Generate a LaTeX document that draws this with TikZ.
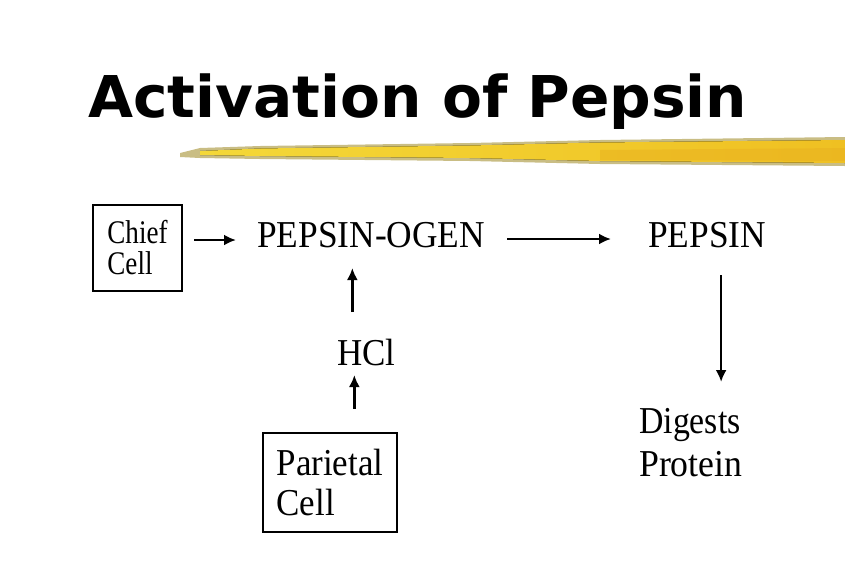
\documentclass[tikz,border=0pt]{standalone}
\usepackage{fontspec}
\setmainfont{Liberation Serif}
\newfontfamily\titlefont{DejaVu Sans}
\usetikzlibrary{arrows.meta,calc}
\definecolor{brushkhaki}{HTML}{C9BD84}
\definecolor{brushyellow}{HTML}{F4D838}
\definecolor{brushgold}{HTML}{EFC022}
\definecolor{brushorange}{HTML}{E9B020}
\tikzset{
  lbl/.style={inner sep=0pt, anchor=base west, font=\fontsize{38}{43}\selectfont},
  cellbox/.style={draw, line width=2.6pt, inner sep=0pt, align=left},
  arr/.style={line width=2.6pt, -{Latex[length=12pt,width=11pt]}},
}
\begin{document}
\begin{tikzpicture}[x=1pt,y=-1pt]
\useasboundingbox (0,0) rectangle (845,576);
% title
\node[inner sep=0pt, anchor=base west, font=\titlefont\bfseries\fontsize{57.6}{60}\selectfont] (title) at (88,117) {\scalebox{1.01}[1]{Activation of Pepsin}};
% brush stroke
\fill[brushkhaki] (180,153) -- (200,148) -- (260,146) -- (470,143) -- (600,140) -- (845,137) -- (845,166) -- (600,164) -- (470,161) -- (260,159) -- (200,158) -- (180,157) -- cycle;
\fill[left color=brushyellow, right color=brushgold] (200,151) -- (260,148.5) -- (470,145.5) -- (600,142.5) -- (845,140) -- (845,163) -- (600,161) -- (470,158) -- (260,156) -- (200,155) -- cycle;
\fill[brushorange, opacity=0.5] (600,150) -- (845,148) -- (845,161) -- (600,160) -- cycle;
% nodes
\node[cellbox, minimum width=89, minimum height=86, font=\fontsize{33}{31}\selectfont] (chief) at (137.5,248) {\scalebox{0.82}[1]{Chief}\\\scalebox{0.82}[1]{Cell}};
\node[lbl] (pg) at (257,247) {\scalebox{0.93}[1]{PEPSIN-OGEN}};
\node[lbl] (p) at (648,247) {\scalebox{0.93}[1]{PEPSIN}};
\node[lbl] (hcl) at (337,365) {\scalebox{0.92}[1]{HCl}};
\node[cellbox, minimum width=134, minimum height=99, font=\fontsize{38}{40}\selectfont] (par) at (330,482.5) {\scalebox{0.92}[1]{Parietal}\\\scalebox{0.92}[1]{Cell}};
\node[inner sep=0pt, anchor=north west, align=left, font=\fontsize{38}{43}\selectfont] (dig) at (639,408) {\scalebox{0.89}[1]{Digests}\\\scalebox{0.94}[1]{Protein}};
% arrows
\draw[arr] ($(chief.east |- pg.base)+(11pt,7pt)$) -- ($(pg.base west)+(-21pt,7pt)$);
\draw[arr] ($(pg.base east)+(22pt,8pt)$) -- ($(p.base west)+(-37pt,8pt)$);
\draw[arr] ($(p.base)+(14pt,-28pt)$) -- ($(p.base |- dig.north)+(14pt,26pt)$);
\draw[arr] ($(hcl.base)+(-14pt,53pt)$) -- ($(hcl.base |- pg.base)+(-14pt,-21pt)$);
\draw[arr] ($(hcl.base |- par.north)+(-12pt,23pt)$) -- ($(hcl.base)+(-12pt,-10pt)$);
\end{tikzpicture}
\end{document}
